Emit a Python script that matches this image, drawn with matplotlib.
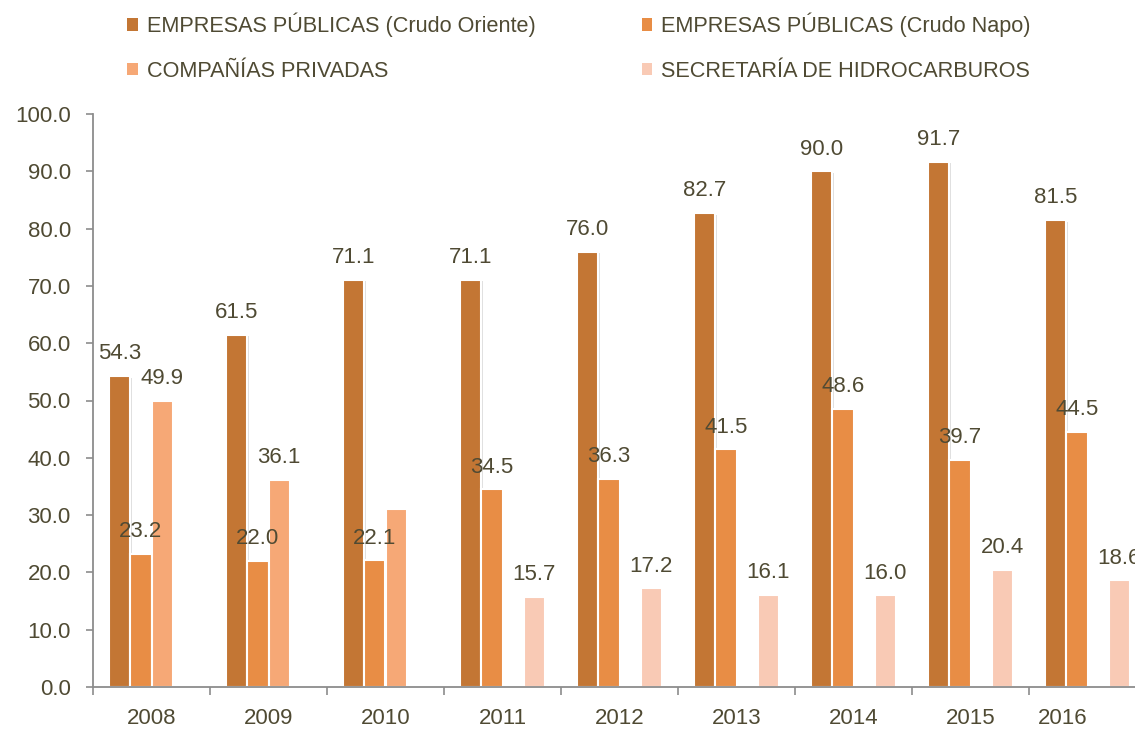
import matplotlib
matplotlib.use("Agg")
import matplotlib.pyplot as plt
from matplotlib import font_manager
from matplotlib.patches import Patch
from matplotlib import patheffects as pe
from matplotlib.transforms import ScaledTranslation
import numpy as np

years = ["2008", "2009", "2010", "2011", "2012", "2013", "2014", "2015", "2016"]
series_names = ["EMPRESAS PÚBLICAS (Crudo Oriente)", "EMPRESAS PÚBLICAS (Crudo Napo)",
                "COMPAÑÍAS PRIVADAS", "SECRETARÍA DE HIDROCARBUROS"]
crudo_oriente = [54.3, 61.5, 71.1, 71.1, 76.0, 82.7, 90.0, 91.7, 81.5]
crudo_napo = [23.2, 22.0, 22.1, 34.5, 36.3, 41.5, 48.6, 39.7, 44.5]
privadas = [49.9, 36.1, 31.1, 0, 0, 0, 0, 0, 0]
privadas_labels = ["49.9", "36.1", "", "", "", "", "", "", ""]
secretaria = [0, 0, 0, 15.7, 17.2, 16.1, 16.0, 20.4, 18.6]
secretaria_labels = ["", "", "", "15.7", "17.2", "16.1", "16.0", "20.4", "18.6"]
oriente_labels = [f"{v:.1f}" for v in crudo_oriente]
napo_labels = [f"{v:.1f}" for v in crudo_napo]

colors = ["#C37634", "#E88D45", "#F6A876", "#F9CAB5"]
text_color = "#4F4A33"

names = {f.name for f in font_manager.fontManager.ttflist}
if "Liberation Sans Narrow" in names:
    fam = ["Liberation Sans Narrow", "DejaVu Sans"]
    fs = 18
    lfs = 15
else:
    fam = ["Liberation Sans", "DejaVu Sans"]
    fs = 16
    lfs = 15.6
plt.rcParams["font.family"] = fam

W, H = 1135, 731
fig = plt.figure(figsize=(W / 100, H / 100), dpi=100)
x0, x1 = 93, 1146
y0, y1 = 687, 114
ax = fig.add_axes([x0 / W, 1 - y0 / H, (x1 - x0) / W, (y0 - y1) / H])

n = len(years)
x = np.arange(n)
bw = 0.18
data = [crudo_oriente, crudo_napo, privadas, secretaria]
labels = [oriente_labels, napo_labels, privadas_labels, secretaria_labels]
shadow = [pe.SimplePatchShadow(offset=(1.2, -1.2), shadow_rgbFace="#c0c0c0", alpha=0.5), pe.Normal()]
for i, (vals, labs) in enumerate(zip(data, labels)):
    pos = x + (i - 1.5) * bw
    bars = ax.bar(pos, vals, width=bw, color=colors[i], edgecolor="white", linewidth=1.5,
                  label=series_names[i], zorder=2)
    for b, v in zip(bars, vals):
        if v > 0:
            b.set_path_effects(shadow)
        else:
            b.set_visible(False)
    for p, v, lab in zip(pos, vals, labs):
        if lab:
            ax.annotate(lab, (p, v), xytext=(0, 12), textcoords="offset points",
                        ha="center", va="baseline", fontsize=fs, color=text_color, zorder=5)

ax.set_xlim(-0.5, n - 0.5)
ax.set_ylim(0, 100)
ax.set_yticks(np.arange(0, 101, 10))
ax.set_yticklabels([f"{v:.1f}" for v in np.arange(0, 101, 10)])
ax.set_xticks(x)
ax.set_xticklabels(years)
ax.set_xticks(np.arange(-0.5, n, 1), minor=True)
ax.tick_params(axis="x", which="major", length=0, pad=15, labelsize=fs, labelcolor=text_color)
ax.tick_params(axis="x", which="minor", length=6, width=1.2, color="#8c8c8c", direction="out")
ax.tick_params(axis="y", which="major", length=5, width=1.2, color="#8c8c8c", pad=11,
               labelsize=fs, labelcolor=text_color, direction="out")
for s in ["top", "right"]:
    ax.spines[s].set_visible(False)
for s in ["left", "bottom"]:
    ax.spines[s].set_color("#8c8c8c")
    ax.spines[s].set_linewidth(1.3)
    ax.spines[s].set_zorder(4)

# shift last year label left (as in reference, it is kept inside the image)
lbls = ax.get_xticklabels()
lbls[-1].set_transform(lbls[-1].get_transform() + ScaledTranslation(-25 / 100, 0, fig.dpi_scale_trans))

# legend filled row by row: (Oriente, Napo) / (Privadas, Secretaría)
order = [0, 2, 1, 3]
handles = [Patch(facecolor=colors[k], edgecolor="none") for k in order]
leg_labels = [series_names[k] for k in order]
leg = fig.legend(handles, leg_labels, loc="upper left", bbox_to_anchor=(118 / W, 1 - 4 / H),
                 ncol=2, frameon=False, fontsize=lfs, handlelength=0.5, handleheight=0.5,
                 handletextpad=0.42, columnspacing=4.9, labelspacing=1.1, borderaxespad=0)
for t in leg.get_texts():
    t.set_color(text_color)

fig.savefig("out.png", dpi=100)
